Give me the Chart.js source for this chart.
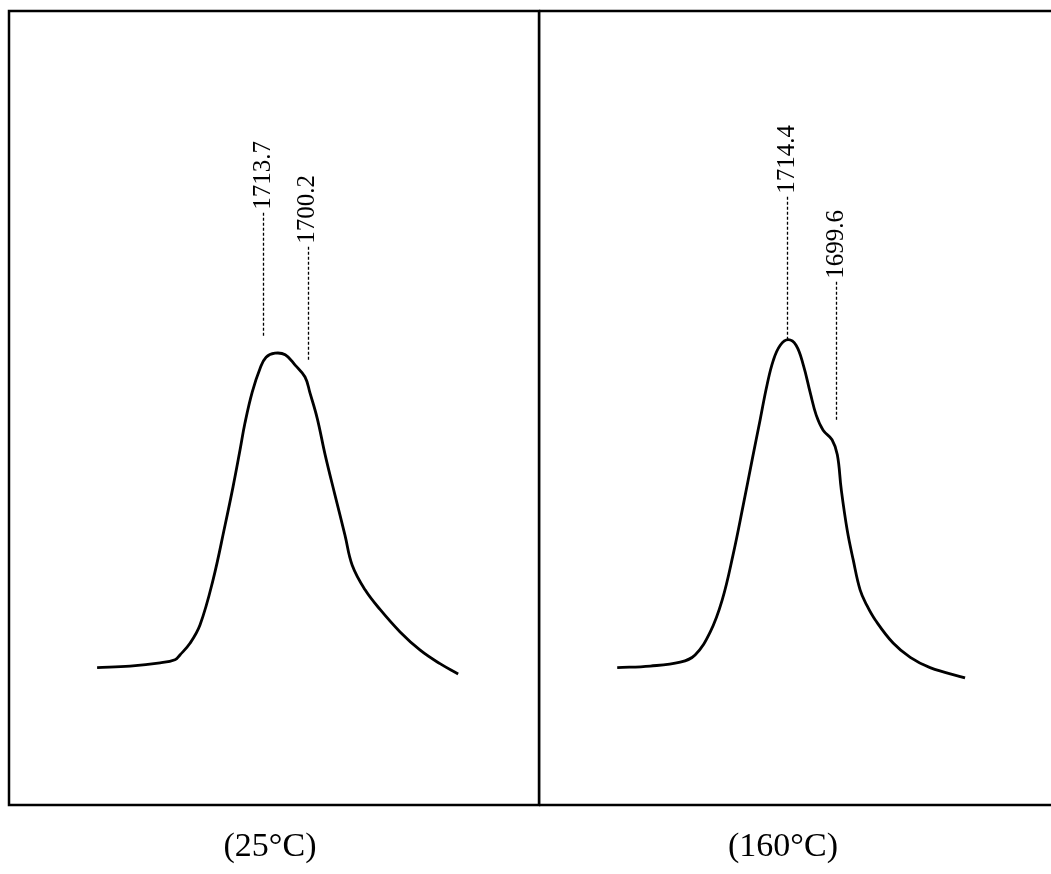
<!DOCTYPE html>
<html>
<head>
    <title>Carbonyl band at 25 and 160 °C</title>
    <script src="https://cdn.jsdelivr.net/npm/chart.js@4.4.1/dist/chart.umd.min.js"></script>
    <style>
        html, body {
            margin: 0;
            padding: 0;
            background: #fff;
            overflow: hidden;
        }
        body {
            position: relative;
            width: 1051px;
            height: 874px;
        }
        canvas {
            position: absolute;
            top: 0;
        }
        #c25 { left: 0; }
        #c160 { left: 539px; }
    </style>
</head>
<body>
    <canvas id="c25" width="541" height="874"></canvas>
    <canvas id="c160" width="530" height="874"></canvas>

    <script>
        // spectrum at 25 C : wavenumber (cm-1) / absorbance (arbitrary)
        const wn25 = [1764.0, 1754.0, 1744.9, 1740.4, 1738.9, 1735.8, 1732.8, 1728.9, 1725.2, 1722.8,
                      1720.7, 1719.2, 1717.0, 1714.6, 1712.8, 1710.1, 1707.0, 1704.0, 1701.0, 1699.5,
                      1697.3, 1694.9, 1691.9, 1688.9, 1686.7, 1682.8, 1678.2, 1672.2, 1666.1, 1660.1, 1654.6];
        const abs25 = [0.173, 0.175, 0.179, 0.183, 0.189, 0.204, 0.227, 0.283, 0.353, 0.401,
                       0.447, 0.481, 0.520, 0.550, 0.564, 0.569, 0.567, 0.554, 0.539, 0.519,
                       0.487, 0.441, 0.390, 0.340, 0.302, 0.271, 0.246, 0.218, 0.195, 0.178, 0.165];

        // spectrum at 160 C
        const wn160 = [1765.9, 1755.9, 1746.8, 1742.3, 1737.7, 1734.1, 1730.8, 1727.7, 1725.0, 1722.6,
                       1720.5, 1718.6, 1716.5, 1714.1, 1711.7, 1709.5, 1707.4, 1705.6, 1703.5, 1700.8,
                       1699.2, 1698.0, 1696.2, 1694.4, 1692.3, 1690.2, 1687.7, 1682.3, 1677.1, 1671.1, 1660.5];
        const abs160 = [0.173, 0.175, 0.180, 0.189, 0.218, 0.258, 0.315, 0.378, 0.435, 0.485,
                        0.529, 0.560, 0.579, 0.586, 0.579, 0.554, 0.519, 0.491, 0.472, 0.460,
                        0.441, 0.397, 0.346, 0.309, 0.271, 0.251, 0.233, 0.204, 0.186, 0.173, 0.160];

        // marked peaks
        const peaks25 = [1713.7, 1700.2];
        const peakLabels25 = ['1713.7', '1700.2'];
        const peakTop25 = [0.746, 0.703];
        const peakBottom25 = [0.589, 0.560];

        const peaks160 = [1714.4, 1699.6];
        const peakLabels160 = ['1714.4', '1699.6'];
        const peakTop160 = [0.766, 0.659];
        const peakBottom160 = [0.586, 0.485];

        const captions = ['(25\u00B0C)', '(160\u00B0C)'];

        // frame, dashed peak markers, rotated labels and caption
        const panelDecor = {
            id: 'panelDecor',
            afterDatasetsDraw(chart, args, opts) {
                const { ctx, chartArea: a } = chart;
                const x = chart.scales.x, y = chart.scales.y;
                ctx.save();
                ctx.strokeStyle = '#000';
                ctx.fillStyle = '#000';
                ctx.lineWidth = 2.5;
                ctx.strokeRect(a.left, a.top, a.right - a.left, a.bottom - a.top);

                ctx.lineWidth = 1.3;
                ctx.setLineDash([3, 2]);
                opts.peaks.forEach((p, i) => {
                    const px = Math.round(x.getPixelForValue(p)) + 0.5;
                    ctx.beginPath();
                    ctx.moveTo(px, y.getPixelForValue(opts.tops[i]));
                    ctx.lineTo(px, y.getPixelForValue(opts.bottoms[i]));
                    ctx.stroke();
                });
                ctx.setLineDash([]);

                ctx.font = '25px "Liberation Serif", serif';
                ctx.textAlign = 'left';
                ctx.textBaseline = 'middle';
                opts.peaks.forEach((p, i) => {
                    ctx.save();
                    ctx.translate(x.getPixelForValue(p), y.getPixelForValue(opts.tops[i]) - 3);
                    ctx.rotate(-Math.PI / 2);
                    ctx.fillText(opts.labels[i], 0, 0);
                    ctx.restore();
                });

                ctx.font = '34px "Liberation Serif", serif';
                ctx.textAlign = 'center';
                ctx.fillText(opts.caption, opts.captionX, a.bottom + 42);
                ctx.restore();
            }
        };

        function makePanel(id, wn, abs, xmin, xmax, padding, decor) {
            const ctx = document.getElementById(id).getContext('2d');
            return new Chart(ctx, {
                type: 'line',
                data: {
                    datasets: [{
                        data: wn.map((w, i) => ({ x: w, y: abs[i] })),
                        borderColor: '#000',
                        borderWidth: 2.8,
                        pointRadius: 0,
                        fill: false,
                        tension: 0.4
                    }]
                },
                options: {
                    responsive: false,
                    animation: false,
                    layout: { padding: padding },
                    plugins: {
                        legend: { display: false },
                        tooltip: { enabled: false },
                        panelDecor: decor
                    },
                    scales: {
                        x: { type: 'linear', reverse: true, min: xmin, max: xmax, display: false },
                        y: { min: 0, max: 1, display: false }
                    }
                },
                plugins: [panelDecor]
            });
        }

        makePanel('c25', wn25, abs25, 1630.1, 1790.7,
            { left: 9, right: 2, top: 11, bottom: 69 },
            { peaks: peaks25, labels: peakLabels25, tops: peakTop25, bottoms: peakBottom25,
              caption: captions[0], captionX: 270 });

        makePanel('c160', wn160, abs160, 1629.0, 1789.6,
            { left: 0, right: 0, top: 11, bottom: 69 },
            { peaks: peaks160, labels: peakLabels160, tops: peakTop160, bottoms: peakBottom160,
              caption: captions[1], captionX: 244 });
    </script>
</body>
</html>
